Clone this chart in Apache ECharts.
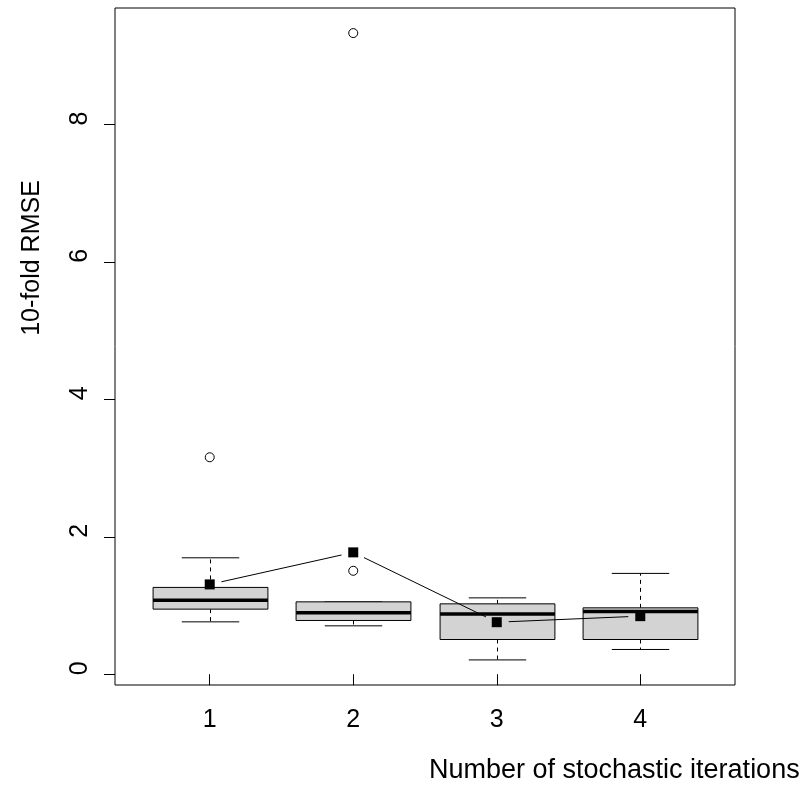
<!DOCTYPE html>
<html>
<head>
<meta charset="utf-8">
<title>10-fold RMSE by number of stochastic iterations</title>
<script src="https://cdn.jsdelivr.net/npm/echarts@6/dist/echarts.min.js"></script>
<style>
  html, body { margin: 0; padding: 0; background: #fff; }
  #chart { width: 807px; height: 786px; }
</style>
</head>
<body>
<div id="chart"></div>
<script>
// Groups on the x axis and their tick labels
const categories = [1, 2, 3, 4];
const xTickLabels = ['1', '2', '3', '4'];
const yTickValues = [0, 2, 4, 6, 8];

// Five-number summaries per group
const whiskerLow  = [0.762, 0.704, 0.208, 0.360];
const q1          = [0.947, 0.782, 0.505, 0.505];
const median      = [1.078, 0.893, 0.878, 0.913];
const q3          = [1.263, 1.053, 1.024, 0.966];
const whiskerHigh = [1.694, 1.053, 1.111, 1.467];

// Points beyond the whiskers: [group, value]
const outliers = [[1, 3.157], [2, 1.505], [2, 9.33]];

// Group means, joined by a line
const means = [1.307, 1.773, 0.757, 0.845];

const FONT = '"Liberation Sans", Arial, Helvetica, sans-serif';

const boxData = categories.map((c, i) => [c, whiskerLow[i], q1[i], median[i], q3[i], whiskerHigh[i]]);
const meanData = categories.map((c, i) => [c, means[i]]);
const meanSegments = means.slice(1).map((m, i) => [categories[i], means[i], categories[i + 1], m]);

function renderBox(params, api) {
  const x = api.value(0);
  const pLow = api.coord([x, api.value(1)]);
  const pQ1 = api.coord([x, api.value(2)]);
  const pMed = api.coord([x, api.value(3)]);
  const pQ3 = api.coord([x, api.value(4)]);
  const pHigh = api.coord([x, api.value(5)]);
  const halfBox = api.size([0.4, 0])[0];
  const halfCap = api.size([0.2, 0])[0];
  const cx = Math.round(pMed[0]) + 0.5;
  const dashed = { stroke: '#000', lineWidth: 1, lineDash: [4, 4] };
  const solid = { stroke: '#000', lineWidth: 1 };
  return {
    type: 'group',
    children: [
      { type: 'line', shape: { x1: cx, y1: pQ1[1], x2: cx, y2: pLow[1] }, style: dashed },
      { type: 'line', shape: { x1: cx, y1: pQ3[1], x2: cx, y2: pHigh[1] }, style: dashed },
      { type: 'line', shape: { x1: cx - halfCap, y1: pLow[1], x2: cx + halfCap, y2: pLow[1] }, style: solid },
      { type: 'line', shape: { x1: cx - halfCap, y1: pHigh[1], x2: cx + halfCap, y2: pHigh[1] }, style: solid },
      {
        type: 'rect',
        shape: { x: cx - halfBox, y: pQ3[1], width: 2 * halfBox, height: pQ1[1] - pQ3[1] },
        style: { fill: '#d3d3d3', stroke: '#000', lineWidth: 1 }
      },
      { type: 'line', shape: { x1: cx - halfBox, y1: pMed[1], x2: cx + halfBox, y2: pMed[1] }, style: { stroke: '#000', lineWidth: 3.5 } }
    ]
  };
}

// Line segments between consecutive means, left open around each marker
function renderMeanSegment(params, api) {
  const a = api.coord([api.value(0), api.value(1)]);
  const b = api.coord([api.value(2), api.value(3)]);
  const dx = b[0] - a[0], dy = b[1] - a[1];
  const len = Math.sqrt(dx * dx + dy * dy);
  const gap = 12;
  if (len <= 2 * gap) return null;
  const ux = dx / len, uy = dy / len;
  return {
    type: 'line',
    shape: { x1: a[0] + ux * gap, y1: a[1] + uy * gap, x2: b[0] - ux * gap, y2: b[1] - uy * gap },
    style: { stroke: '#000', lineWidth: 1 }
  };
}

const chart = echarts.init(document.getElementById('chart'), null, { renderer: 'canvas' });

chart.setOption({
  animation: false,
  backgroundColor: '#fff',
  grid: {
    left: 115, right: 72, top: 8, bottom: 101,
    show: true, borderColor: '#000', borderWidth: 1, backgroundColor: 'transparent'
  },
  xAxis: {
    type: 'value',
    min: 0.34, max: 4.66,
    splitLine: { show: false },
    axisLine: { show: false },
    axisTick: { show: true, inside: false, length: 11, customValues: categories, lineStyle: { color: '#000', width: 1 } },
    axisLabel: {
      customValues: categories,
      formatter: v => xTickLabels[categories.indexOf(Math.round(v))] || '',
      margin: 23, fontSize: 25, fontFamily: FONT, color: '#000'
    }
  },
  yAxis: {
    type: 'value',
    min: -0.157, max: 9.695,
    splitLine: { show: false },
    axisLine: { show: false },
    axisTick: { show: true, inside: false, length: 11, customValues: yTickValues, lineStyle: { color: '#000', width: 1 } },
    axisLabel: {
      customValues: yTickValues,
      rotate: 90,
      padding: [0, 0, 0, 12],
      margin: 22, fontSize: 25, fontFamily: FONT, color: '#000'
    }
  },
  graphic: [
    {
      type: 'text', x: 32, y: 258, rotation: Math.PI / 2,
      style: {
        text: '10-fold RMSE', font: '25px ' + FONT, fill: '#000',
        textAlign: 'center', textVerticalAlign: 'middle', align: 'center', verticalAlign: 'middle'
      }
    },
    {
      type: 'text', x: 429, y: 771,
      style: {
        text: 'Number of stochastic iterations', font: '27px ' + FONT, fill: '#000',
        textAlign: 'left', textVerticalAlign: 'middle', align: 'left', verticalAlign: 'middle'
      }
    }
  ],
  series: [
    {
      name: 'box', type: 'custom', renderItem: renderBox, data: boxData,
      encode: { x: 0, y: [1, 2, 3, 4, 5] }, z: 2, silent: true
    },
    {
      name: 'mean line', type: 'custom', renderItem: renderMeanSegment, data: meanSegments,
      encode: { x: [0, 2], y: [1, 3] }, z: 3, silent: true
    },
    {
      name: 'mean', type: 'scatter', data: meanData, symbol: 'rect', symbolSize: 10,
      itemStyle: { color: '#000', opacity: 1 }, z: 4, silent: true
    },
    {
      name: 'outlier', type: 'scatter', data: outliers, symbol: 'circle', symbolSize: 9,
      itemStyle: { color: 'rgba(0,0,0,0)', borderColor: '#000', borderWidth: 1, opacity: 1 }, z: 4, silent: true
    }
  ]
});
</script>
</body>
</html>
